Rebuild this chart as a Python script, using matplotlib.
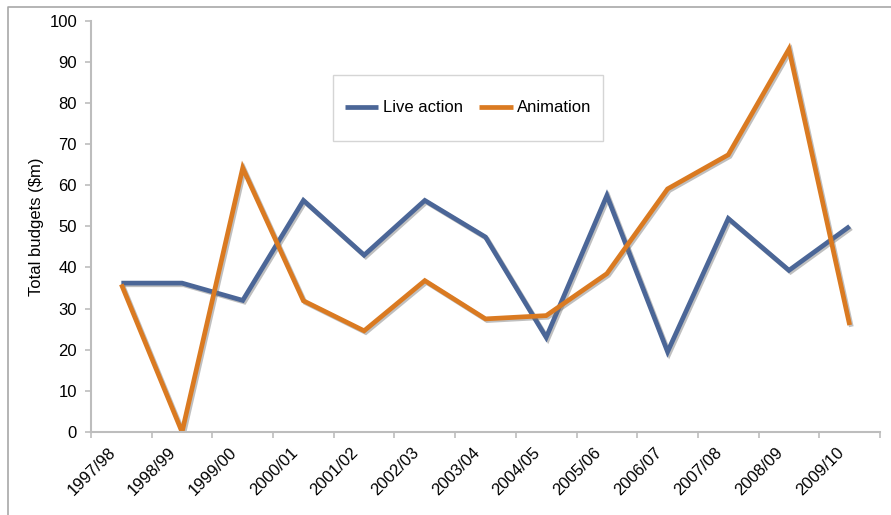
import numpy as np
import matplotlib
matplotlib.use('Agg')
import matplotlib.pyplot as plt
import matplotlib.patheffects as pe
import matplotlib.transforms as mtransforms
from matplotlib.lines import Line2D
from matplotlib.patches import Rectangle

plt.rcParams['font.family'] = ['Liberation Sans', 'DejaVu Sans']

# data
seasons = ['1997/98', '1998/99', '1999/00', '2000/01', '2001/02', '2002/03', '2003/04',
           '2004/05', '2005/06', '2006/07', '2007/08', '2008/09', '2009/10']
live_action = [36.2, 36.2, 32.0, 56.3, 43.0, 56.3, 47.4, 23.0, 57.5, 19.5, 51.9, 39.3, 50.0]
animation = [35.9, 0.0, 64.2, 31.9, 24.6, 36.8, 27.5, 28.3, 38.5, 59.1, 67.4, 93.1, 26.0]

blue = '#4b6697'
orange = '#da7a21'
axis_grey = '#bdbdbd'

fig = plt.figure(figsize=(8.91, 5.15), dpi=100)
ax = fig.add_axes([91 / 891, 83 / 515, 789 / 891, 411.3 / 515])

x = np.arange(len(seasons))
shadow = [pe.SimpleLineShadow(offset=(1.2, -1.2), shadow_color='0.45', alpha=0.45), pe.Normal()]
ax.plot(x, live_action, color=blue, lw=3.4, label='Live action', path_effects=shadow,
        solid_joinstyle='miter', solid_capstyle='butt')
ax.plot(x, animation, color=orange, lw=3.4, label='Animation', path_effects=shadow,
        solid_joinstyle='miter', solid_capstyle='butt')

ax.set_xlim(-0.5, len(seasons) - 0.5)
ax.set_ylim(0, 100)
ax.set_yticks(np.arange(0, 101, 10))

# ticks on category boundaries, labels on category centres
ax.set_xticks(np.arange(-0.5, len(seasons)))
ax.set_xticklabels([])
ax.set_xticks(x, minor=True)
ax.set_xticklabels(seasons, minor=True, rotation=45, ha='right', va='center',
                   rotation_mode='anchor', fontsize=12)
ax.tick_params(axis='x', which='minor', length=0, pad=13)
ax.tick_params(axis='x', which='major', length=4, color=axis_grey, width=1.2)
ax.tick_params(axis='y', length=4, color=axis_grey, width=1.2, labelsize=12, pad=6)

shift = mtransforms.ScaledTranslation(-6 / 72, 0, fig.dpi_scale_trans)
for lbl in ax.get_xticklabels(minor=True):
    lbl.set_transform(lbl.get_transform() + shift)

for s in ['top', 'right']:
    ax.spines[s].set_visible(False)
for s in ['left', 'bottom']:
    ax.spines[s].set_color(axis_grey)
    ax.spines[s].set_linewidth(1.5)

ax.set_ylabel('Total budgets ($m)', fontsize=12, labelpad=4)

# legend with its own box
ax.add_patch(Rectangle((0.3067, 0.7075), 0.3423, 0.1605, transform=ax.transAxes,
                       fill=True, facecolor='white', edgecolor='#d5d5d5', lw=1, zorder=4))
leg = ax.legend(loc='center', bbox_to_anchor=(0.478, 0.788), ncol=2, frameon=False,
                fontsize=12, handlelength=2.0, handletextpad=0.25, columnspacing=1.0)
leg.set_zorder(5)
for h in leg.get_lines():
    h.set_linewidth(3.4)
    h.set_path_effects([])

# outer chart frame (only top and left are visible in the crop)
fig.add_artist(Line2D([8 / 891, 8 / 891, 1], [0, 1 - 7 / 515, 1 - 7 / 515],
                      transform=fig.transFigure, color='#a8a8a8', lw=1.2))

fig.savefig('out.png', dpi=100)
